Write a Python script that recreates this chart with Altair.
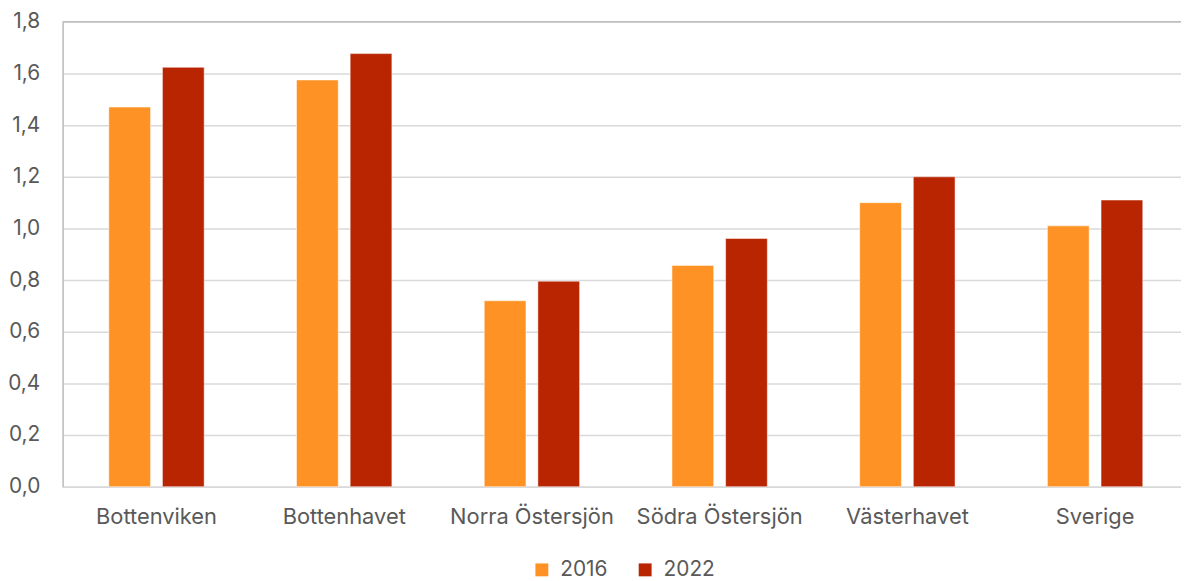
import altair as alt
import pandas as pd

categories = ["Bottenviken", "Bottenhavet", "Norra Östersjön", "Södra Östersjön", "Västerhavet", "Sverige"]
years = ["2016", "2022"]
values_2016 = [1.47, 1.575, 0.72, 0.857, 1.10, 1.01]
values_2022 = [1.624, 1.677, 0.796, 0.961, 1.20, 1.11]
y_ticks = [0.0, 0.2, 0.4, 0.6, 0.8, 1.0, 1.2, 1.4, 1.6, 1.8]
colors = ["#FF9224", "#B82500"]

rows = []
for c, a, b in zip(categories, values_2016, values_2022):
    rows.append({"region": c, "year": "2016", "value": a})
    rows.append({"region": c, "year": "2022", "value": b})
df = pd.DataFrame(rows)

FONT = "Inter"
TXT = "#595959"

bars = alt.Chart(df).mark_bar(stroke="white", strokeWidth=0.5).encode(
    x=alt.X("region:N", sort=categories, title=None,
            scale=alt.Scale(paddingInner=0, paddingOuter=0),
            axis=alt.Axis(labelAngle=0, ticks=False, domain=True, domainColor="#D9D9D9",
                          domainWidth=1.5, labelPadding=20, labelFontSize=22,
                          labelColor=TXT, labelFont=FONT, grid=False)),
    xOffset=alt.XOffset("year:N", sort=years,
                        scale=alt.Scale(paddingInner=0.222, paddingOuter=0.861)),
    y=alt.Y("value:Q", title=None,
            scale=alt.Scale(domain=[0, 1.8], nice=False),
            axis=alt.Axis(values=y_ticks, labelExpr="replace(format(datum.value, '.1f'), '.', ',')",
                          ticks=False, domain=True, domainColor="#BFBFBF", domainWidth=1.5,
                          gridColor="#D9D9D9", gridWidth=1.5, labelPadding=23,
                          labelFontSize=21, labelColor=TXT, labelFont=FONT)),
    color=alt.Color("year:N", sort=years, scale=alt.Scale(domain=years, range=colors),
                    legend=alt.Legend(title=None, orient="none", legendX=472, legendY=541,
                                      direction="horizontal",
                                      symbolType="square", symbolSize=169, symbolStrokeWidth=0,
                                      labelFontSize=21, labelColor=TXT, labelFont=FONT,
                                      columnPadding=27, labelOffset=8)),
)

top = alt.Chart(pd.DataFrame({"v": [y_ticks[-1]]})).mark_rule(color="#BFBFBF", strokeWidth=1.5).encode(
    y=alt.Y("v:Q")
)

chart = alt.layer(bars, top).properties(
    width=1134, height=468,
    padding={"left": 55, "top": 12, "right": -8, "bottom": 93},
    autosize=alt.AutoSizeParams(type="none"),
).configure_view(stroke=None).configure(font=FONT)

chart.save("out.html", embed_options={"renderer": "svg", "actions": False})
